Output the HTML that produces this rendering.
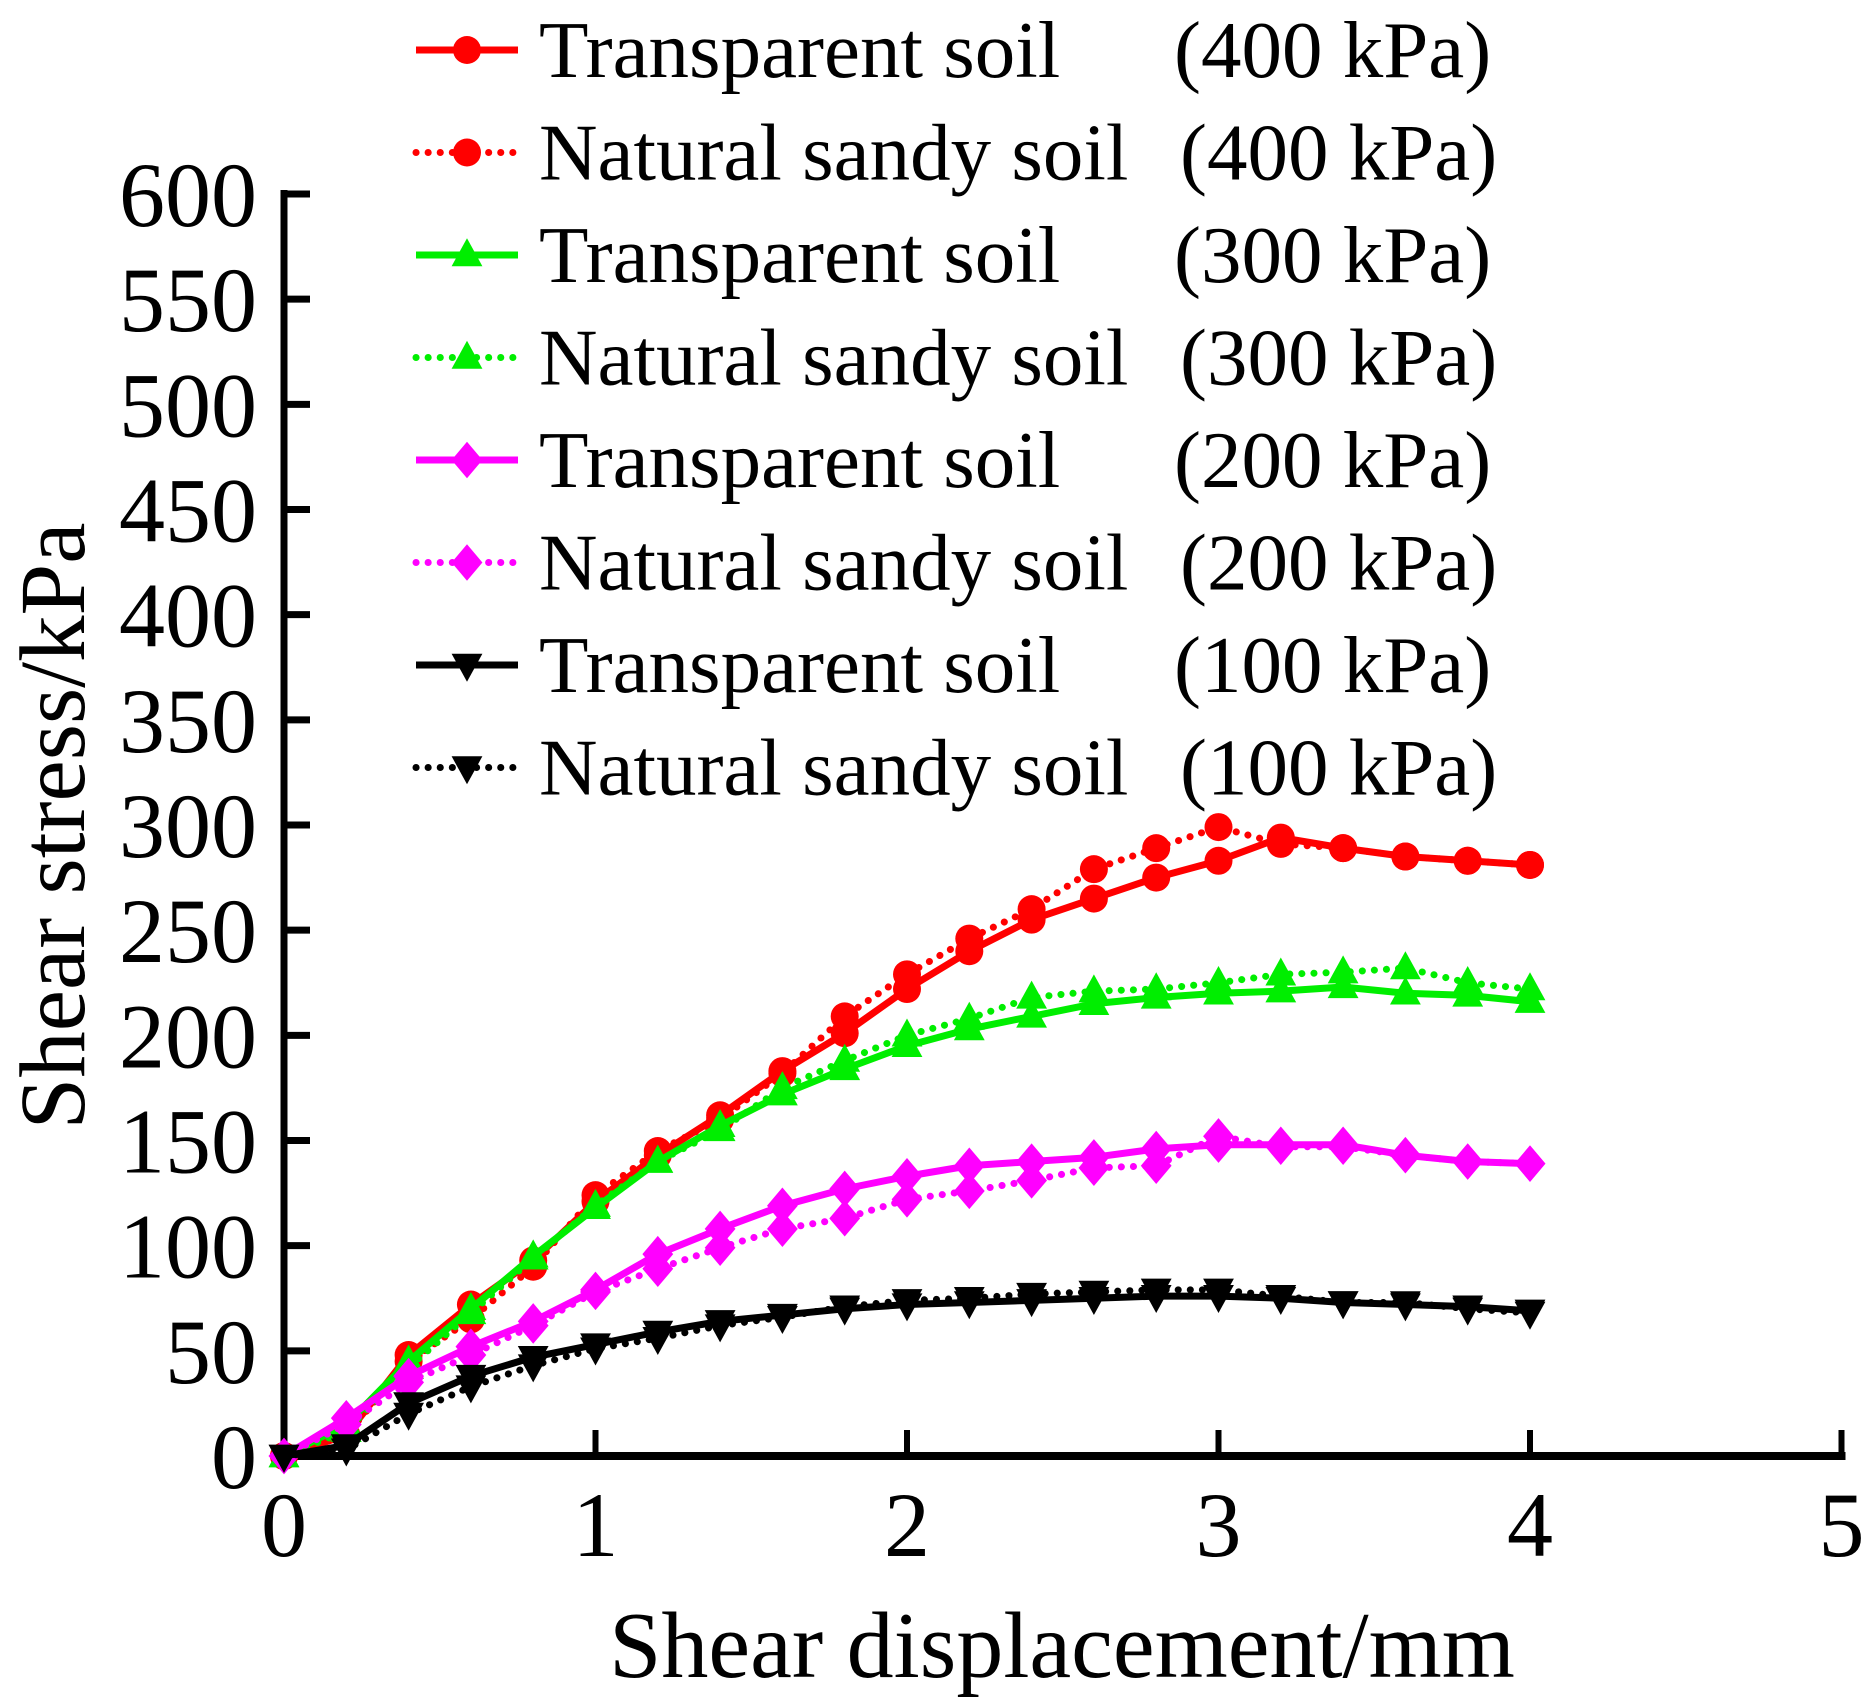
<!DOCTYPE html>
<html><head><meta charset="utf-8"><style>
html,body{margin:0;padding:0;background:#fff}
svg{display:block;font-family:"Liberation Serif",serif}
</style></head><body>
<svg id="chart" width="1869" height="1706" viewBox="0 0 1869 1706">
<g id="axes"></g>
<g id="plot"></g>
<g id="legend"></g>
<text x="1062" y="1677" font-size="94" text-anchor="middle">Shear displacement/mm</text>
<text transform="translate(84,826) rotate(-90)" font-size="93" text-anchor="middle">Shear stress/kPa</text>
</svg>
<script>
const xValues=[0,0.2,0.4,0.6,0.8,1.0,1.2,1.4,1.6,1.8,2.0,2.2,2.4,2.6,2.8,3.0,3.2,3.4,3.6,3.8,4.0];
const transparent400=[0,10,48,72,93,121,143,162,183,201,222,240,255,265,275,283,294,289,285,283,281];
const natural400=[0,10,45,65,90,124,145,160,182,209,229,246,260,279,289,299,291,289,285,283,281];
const transparent300=[0,15,45,70,95,118,140,157,172,184,195,203,209,215,218,220,221,223,220,219,216];
const natural300=[0,12,42,68,94,119,140,155,175,188,200,208,218,221,222,225,229,230,232,225,222];
const transparent200=[0,18,38,52,64,79,96,108,119,127,133,138,140,142,146,148,148,148,143,140,139];
const natural200=[0,15,35,48,62,78,89,99,108,113,122,126,131,137,138,152,147,147,143,140,139];
const transparent100=[0,5,25,38,47,53,59,64,67,70,72,73,74,75,76,76,75,73,72,71,69];
const natural100=[0,3,20,33,43,51,56,62,66,71,74,75,77,78,79,79,76,73,73,70,68];
const xTicks=[0,1,2,3,4,5];
const yTicks=[0,50,100,150,200,250,300,350,400,450,500,550,600];
const legendLabels=["Transparent soil","Natural sandy soil","Transparent soil","Natural sandy soil","Transparent soil","Natural sandy soil","Transparent soil","Natural sandy soil"];
const legendPressures=["(400 kPa)","(400 kPa)","(300 kPa)","(300 kPa)","(200 kPa)","(200 kPa)","(100 kPa)","(100 kPa)"];

const NS="http://www.w3.org/2000/svg";
const X0=284,XU=311.5,Y0=1456,YU=(1456-194)/600;
const sx=v=>X0+v*XU, sy=v=>Y0-v*YU;
function mk(tag,attrs,parent){const e=document.createElementNS(NS,tag);for(const k in attrs)e.setAttribute(k,attrs[k]);parent.appendChild(e);return e;}
const axes=document.getElementById('axes'),plot=document.getElementById('plot'),legend=document.getElementById('legend');

let a=mk('line',{x1:sx(0),y1:sy(0),x2:sx(5)+4,y2:sy(0),stroke:'#000','stroke-width':8},axes);

a=mk('line',{x1:sx(0),y1:sy(0)+4,x2:sx(0),y2:sy(600)-4,stroke:'#000','stroke-width':7},axes);

xTicks.forEach(t=>{
 const l=mk('line',{x1:sx(t),y1:sy(0),x2:sx(t),y2:sy(0)-26,stroke:'#000','stroke-width':6},axes);
 
 const tx=mk('text',{x:sx(t),y:sy(0)+100,'font-size':92,'text-anchor':'middle'},axes);tx.textContent=t;
 
});
yTicks.forEach(t=>{
 const l=mk('line',{x1:sx(0),y1:sy(t),x2:sx(0)+26,y2:sy(t),stroke:'#000','stroke-width':7},axes);
 
 const tx=mk('text',{x:257,y:sy(t)+32,'font-size':92,'text-anchor':'end'},axes);tx.textContent=t;
 
});

function marker(shape,x,y,color,parent,r){
 r=r||14;let e;
 if(shape==='circle')e=mk('circle',{cx:x,cy:y,r:r,fill:color},parent);
 else if(shape==='up')e=mk('polygon',{points:`${x},${y-r*1.2} ${x-r*1.1},${y+r*0.8} ${x+r*1.1},${y+r*0.8}`,fill:color},parent);
 else if(shape==='down')e=mk('polygon',{points:`${x},${y+r*1.2} ${x-r*1.1},${y-r*0.8} ${x+r*1.1},${y-r*0.8}`,fill:color},parent);
 else e=mk('polygon',{points:`${x},${y-r*1.3} ${x+r*1.1},${y} ${x},${y+r*1.3} ${x-r*1.1},${y}`,fill:color},parent);
 return e;
}
const series=[
 [transparent400,'#ff0000','circle',false,'transparent-400'],
 [natural400,'#ff0000','circle',true,'natural-400'],
 [transparent300,'#00ee00','up',false,'transparent-300'],
 [natural300,'#00ee00','up',true,'natural-300'],
 [transparent200,'#ff00ff','diamond',false,'transparent-200'],
 [natural200,'#ff00ff','diamond',true,'natural-200'],
 [transparent100,'#000000','down',false,'transparent-100'],
 [natural100,'#000000','down',true,'natural-100']
];
series.forEach((s,i)=>{
 const [vals,col,shape,dot,name]=s;
 const g=mk('g',{},plot);
 
 const pts=vals.map((v,j)=>sx(xValues[j])+','+sy(v)).join(' ');
 const attrs={points:pts,fill:'none',stroke:col,'stroke-width':7,'stroke-linejoin':'round'};
 if(dot){attrs['stroke-dasharray']='0.1 12';attrs['stroke-linecap']='round';attrs['stroke-width']=7;}
 const pl=mk('polyline',attrs,g);
 
 vals.forEach((v,j)=>{const m=marker(shape,sx(xValues[j]),sy(v),col,g);
  });
 const ly=50+i*102.5;
 const lg=mk('g',{},legend);
 
 const la={x1:416,y1:ly,x2:518,y2:ly,stroke:col,'stroke-width':7};
 if(dot){la['stroke-dasharray']='0.1 12';la['stroke-linecap']='round';}
 mk('line',la,lg);
 marker(shape,467,ly,col,lg,14);
 const t1=mk('text',{x:539,y:ly+27,'font-size':81},lg);t1.textContent=legendLabels[i];
 
 const t2=mk('text',{x:dot?1180:1174,y:ly+27,'font-size':81},lg);t2.textContent=legendPressures[i];
 
});
</script>
</body></html>
